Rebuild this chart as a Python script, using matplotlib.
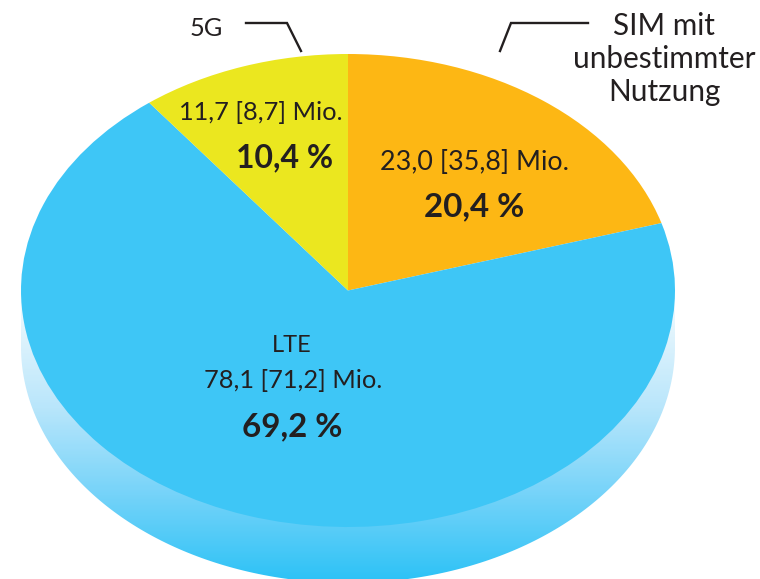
import numpy as np
import matplotlib
matplotlib.use('Agg')
import matplotlib.pyplot as plt
from matplotlib.colors import LinearSegmentedColormap

plt.rcParams['font.family'] = ['Lato', 'DejaVu Sans']

W, H = 760, 579

# share in percent, clockwise from the top
shares = [20.4, 69.2, 10.4]
colors = ['#fdb714', '#3ec6f6', '#ebe71f']
names = ['SIM mit\nunbestimmter\nNutzung', 'LTE', '5G']
mio = ['23,0 [35,8] Mio.', '78,1 [71,2] Mio.', '11,7 [8,7] Mio.']
pct = ['20,4 %', '69,2 %', '10,4 %']

dark = '#231f20'
cx, cy, rx, ry = 348, 290.5, 327, 236.5
depth = 56

fig = plt.figure(figsize=(W / 100, H / 100), dpi=100)

# pixel coordinates for everything but the wedges
bg = fig.add_axes([0, 0, 1, 1])
bg.axis('off')

# side of the disc, a vertical fade clipped to the swept ellipse
fade = LinearSegmentedColormap.from_list('fade', [(0, '#ffffff'), (0.12, '#e4f5fd'), (0.4, '#b9e6fb'),
                                                  (0.7, '#75d3f9'), (1, '#2cc2f6')])
grad = np.linspace(0, 1, 300).reshape(-1, 1)
im = bg.imshow(grad, cmap=fade, extent=[cx - rx, cx + rx, cy + ry + depth, cy], aspect='auto', zorder=1)
bg.set_xlim(0, W)
bg.set_ylim(H, 0)
t = np.linspace(0, np.pi, 200)
xs = np.r_[cx + rx, cx + rx * np.cos(t), cx - rx]
ys = np.r_[cy, cy + depth + ry * np.sin(t), cy]
clip = plt.Polygon(np.c_[xs, ys], closed=True, transform=bg.transData, fc='none', ec='none')
bg.add_patch(clip)
im.set_clip_path(clip)

# top face, axes stretched so the circle turns into the ellipse
ax = fig.add_axes([(cx - rx) / W, 1 - (cy + ry) / H, 2 * rx / W, 2 * ry / H])
ax.pie(shares, colors=colors, startangle=90, counterclock=False, radius=1,
       wedgeprops={'linewidth': 0})
ax.set_aspect('auto')
ax.set_xlim(-1, 1)
ax.set_ylim(-1, 1)

# labels on top of everything
top = fig.add_axes([0, 0, 1, 1])
top.set_xlim(0, W)
top.set_ylim(H, 0)
top.axis('off')
top.patch.set_alpha(0)

fs = 18.3
top.text(475, 162, mio[0], fontsize=19.4, color=dark, ha='center', va='center')
top.text(474, 207, pct[0], fontsize=23.9, color=dark, ha='center', va='center', fontweight='bold')
top.text(261, 112, mio[2], fontsize=fs, color=dark, ha='center', va='center')
top.text(285, 158, pct[2], fontsize=23, color=dark, ha='center', va='center', fontweight='bold')
top.text(292, 346, names[1], fontsize=17, color=dark, ha='center', va='center')
top.text(293, 381, mio[1], fontsize=fs, color=dark, ha='center', va='center')
top.text(292, 427, pct[1], fontsize=23.9, color=dark, ha='center', va='center', fontweight='bold')

top.text(206, 28, names[2], fontsize=fs, color=dark, ha='center', va='center')
top.text(664, 59, names[0], fontsize=21.4, color=dark, ha='center', va='center', linespacing=1.22)

top.plot([246, 287, 301], [23, 23, 51], color=dark, lw=1.7, solid_joinstyle='miter')
top.plot([588, 511, 500], [23, 23, 51], color=dark, lw=1.7, solid_joinstyle='miter')

fig.savefig('out.png', dpi=100)
